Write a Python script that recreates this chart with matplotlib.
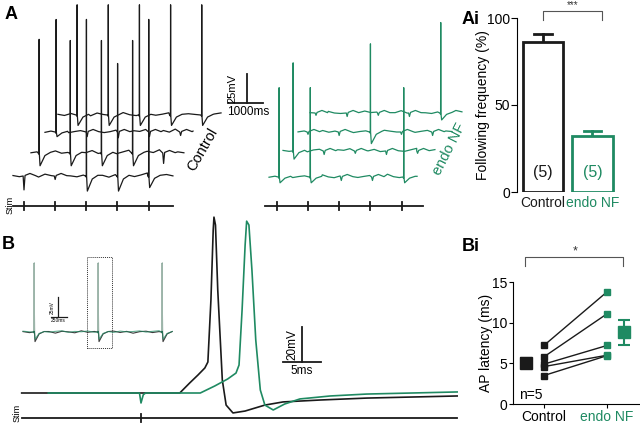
import numpy as np
import matplotlib
matplotlib.use("Agg")
import matplotlib.pyplot as plt
from matplotlib.patches import Rectangle

plt.rcParams['font.family'] = ['Liberation Sans', 'DejaVu Sans']

GREEN = '#1f8a62'
W, H = 640, 430

# ---------------- data ----------------
# A: stim train (ms, time inside a sweep)
stim_times = [0, 890, 1780, 2670, 3560]

# spike peak (mV above baseline) per sweep per stim, 0 = failure
ctrl_spikes = [[0, 0, 135, 97, 135],
               [98, 97, 97, 97, 0],
               [97, 0, 0, 0, 0],
               [95, 95, 95, 95, 95]]
nf_spikes = [[77, 77, 0, 0, 77],
             [76, 0, 0, 0, 0],
             [0, 0, 76, 0, 0],
             [0, 0, 0, 0, 78]]
# trough / artefact depth (mV below baseline)
ctrl_dips = [[12, 3, 13, 13, 10],
             [11, 11, 11, 11, 9],
             [4, 4, 5, 4, 3],
             [9, 9, 9, 9, 9]]
nf_dips = [[5, 5, 3, 3, 5],
           [7, 3, 2, 3, 2],
           [2, 3, 10, 2, 3],
           [2, 3, 2, 3, 6]]
# sweep start / end (ms, relative to first stim)
ctrl_t_start = [-315, -230, -315, -545]
ctrl_t_end = [4255, 4140, 3915, 4115]
nf_t_start = [-285, -285, -285, -170]
nf_t_end = [3945, 4055, 4115, 4170]
# baseline wiggle (mV) read along each sweep
ctrl_noise = [
    [0.4, -0.6, 1.1, 0.2, -0.9, 1.6, 0.3, -0.4, 1.9, 0.1, -0.7, 0.8, 2.3, -0.3, 0.6, -1.0, 1.2, 0.4, 2.0, -0.5, 0.9, 2.6, 0.2, -0.6, 1.3, 0.1],
    [0.2, 1.0, -0.5, 0.7, 1.8, -0.2, 0.5, -0.8, 1.4, 0.3, 2.1, -0.4, 0.6, 1.1, -0.6, 0.9, 2.4, 0.0, -0.7, 1.5, 0.4, 2.8, 0.6, -0.3, 1.0, 0.2],
    [-0.3, 0.8, 0.1, 1.5, -0.6, 0.4, 1.2, -0.2, 0.7, 2.0, -0.5, 0.3, 1.6, 0.2, -0.8, 1.1, 0.5, 2.2, -0.4, 0.6, 1.3, -0.1, 2.5, 0.3, -0.5, 0.8],
    [0.6, -0.4, 1.3, 0.1, 0.9, -0.7, 1.7, 0.4, -0.3, 1.0, 2.1, 0.2, -0.5, 0.8, 1.4, -0.2, 0.7, 1.9, 0.3, -0.6, 1.1, 0.5, 2.3, -0.1, 0.9, 1.8],
]
nf_noise = [
    [-0.2, 0.7, 0.3, 1.6, -0.5, 0.4, 1.0, -0.3, 0.8, 1.9, 0.1, -0.6, 0.9, 0.3, 2.2, -0.4, 0.5, 1.3, -0.2, 0.6, 2.4, 0.3, -0.5, 1.1, 0.2, 0.6],
    [0.5, -0.3, 1.2, 0.4, -0.7, 0.9, 1.5, 0.0, -0.4, 1.1, 0.6, 2.0, -0.2, 0.7, 0.1, 1.4, -0.5, 0.8, 1.7, 0.2, -0.3, 1.0, 2.3, 0.4, 0.8, 1.2],
    [0.1, 0.9, -0.4, 0.6, 1.3, -0.2, 0.8, 0.3, 1.8, -0.5, 0.4, 1.0, 0.2, -0.6, 1.5, 0.7, 0.0, 1.2, 2.1, -0.3, 0.6, 1.4, 0.2, 2.6, 0.9, 0.4],
    [0.3, -0.5, 0.9, 1.4, 0.0, -0.4, 1.1, 0.5, -0.2, 1.7, 0.4, 0.8, -0.6, 1.0, 0.3, 2.0, -0.1, 0.7, 1.3, 0.2, -0.4, 0.9, 1.6, 0.5, 2.2, 1.0],
]

# Ai: following frequency (%)
ai_groups = ['Control', 'endo NF']
ai_mean = [86, 32]
ai_sem = [5, 3]
ai_n = ['(5)', '(5)']

# B inset: 1 s of sweep, black and green overlaid
inset_spike_t = [0, 1000, 2000]
inset_amp = 86
inset_dip = 12
inset_t = (-172, 2156)
inset_noise_ctrl = [0.5, -0.8, 1.2, -0.3, 0.6, -1.4, 0.9, 0.2, -1.0, 1.5, -0.4, 0.7, -1.2, 0.3, 1.1, -0.6, 0.8, -1.5, 0.4, 1.0, -0.7, 0.5, -2.0, -1.2]
inset_noise_nf = [1.0, 0.2, 0.6, 1.3, -0.2, 0.8, 1.5, -0.4, 0.7, 0.3, 1.2, -0.3, 0.9, 0.4, -0.5, 1.1, 0.2, 0.6, 1.4, -0.1, 0.8, 1.6, 1.0, 2.0]

# B main: single AP, ms from stim, mV from rest
b_ctrl_t = [-15.7, 5.1, 6.4, 7.5, 8.4, 8.8, 9.2, 9.5, 9.6, 9.8, 10.1, 10.7, 11.2, 12.1, 13.7, 16.3, 18.7, 23.6, 29.7, 41.6]
b_ctrl_v = [0, 0, 5.7, 10.3, 14.3, 17.7, 53, 93, 100.5, 96, 58.8, 7.4, -6.9, -11.4, -10.3, -6.9, -5.1, -4.0, -2.9, -1.7]
b_nf_t = [-12.2, -0.2, 0.0, 0.3, 0.6, 7.8, 9.7, 11.4, 12.5, 12.9, 13.3, 13.7, 13.9, 14.2, 14.6, 15.1, 15.7, 16.3, 17.4, 18.9, 20.9, 24.9, 29.7, 41.6]
b_nf_v = [0, 0, -5.7, -1.0, 0, 0, 4, 8, 11.4, 16, 47.4, 84.5, 98.2, 96, 70, 30.3, 1.7, -6.9, -9.7, -6.3, -3.4, -1.7, -0.6, 0.6]

# Bi: AP latency (ms), paired cells
bi_ctrl = [7.2, 5.8, 4.9, 4.6, 3.5]
bi_nf = [13.8, 11.1, 7.2, 6.0, 5.95]
bi_mean = [5.1, 8.8]
bi_sem = [0.6, 1.55]


# ---------------- helpers ----------------
def px_axes(fig, x0, y0, x1, y1):
    return fig.add_axes([x0 / W, 1 - y1 / H, (x1 - x0) / W, (y1 - y0) / H])


def sweep_xy(t0, t1, noise, spikes, dips, stims, shape):
    tn = np.linspace(t0, t1, len(noise))
    vn = np.array(noise, float)
    keep = np.ones(len(tn), bool)
    ts, vs = [], []
    pre, up, down, rec1, rec2 = shape
    for t, amp, dip in zip(stims, spikes, dips):
        if t < t0 or t > t1:
            continue
        keep &= (tn < t - pre) | (tn > t + rec2)
        if amp > 0:
            ts += [t - pre, t, t + up, t + 2 * up, t + down, t + rec1, t + rec2]
            vs += [0, -1.0, amp, 0, -dip, -dip * 0.2, 0.6]
        else:
            ts += [t - pre, t, t + down, t + rec1, t + rec2]
            vs += [0, -dip, 0.5, 2.2, 0.3]
    ts = np.concatenate([tn[keep], ts])
    vs = np.concatenate([vn[keep], vs])
    o = np.argsort(ts)
    return ts[o], vs[o]


fig = plt.figure(figsize=(6.4, 4.3), dpi=100)

# ---------------- panel A (traces) ----------------
MS_A = 1000 / 35.0   # ms per px
MV_A = 25 / 29.0     # mV per px
axA = px_axes(fig, 0, 0, 470, 215)
axA.set_xlim((0 - 24) * MS_A, (470 - 24) * MS_A)
axA.set_ylim(-(215 - 176) * MV_A, 176 * MV_A)
axA.axis('off')

shapeA = (25, 4, 30, 170, 330)
ctrl_dx = [0, 15, 32, 53]     # waterfall offset, px
ctrl_dy = [0, 23, 44, 61]
nf_dx = [255, 269, 284, 292]
nf_dy = [-1, 25, 44, 63]
for s in range(4):
    t, v = sweep_xy(ctrl_t_start[s], ctrl_t_end[s], ctrl_noise[s], ctrl_spikes[s], ctrl_dips[s], stim_times, shapeA)
    axA.plot(t + ctrl_dx[s] * MS_A, v + ctrl_dy[s] * MV_A, color='#1a1a1a', lw=0.9, zorder=5 - s)
    t, v = sweep_xy(nf_t_start[s], nf_t_end[s], nf_noise[s], nf_spikes[s], nf_dips[s], stim_times, shapeA)
    axA.plot(t + nf_dx[s] * MS_A, v + nf_dy[s] * MV_A, color=GREEN, lw=0.9, zorder=5 - s)

# stim lines
for x0, a, b in [(0, -315, 4255), ((277 - 24) * MS_A, -343, 4170)]:
    ys = (176 - 206) * MV_A
    axA.plot([x0 + a, x0 + b], [ys, ys], color='#1a1a1a', lw=1.3)
    for st in stim_times:
        axA.plot([x0 + st, x0 + st], [ys - 3.5, ys + 3.5], color='#1a1a1a', lw=1.3)
axA.text(-400, -25, 'Stim', rotation=90, fontsize=6.5, ha='center', va='center')

# scale bar
sx, sy = (247 - 24) * MS_A, (176 - 103) * MV_A
axA.plot([sx, sx], [sy, sy + 25], color='#1a1a1a', lw=1.3)
axA.plot([sx - 1000 * (19 / 35), sx + 1000 * (16 / 35)], [sy, sy], color='#1a1a1a', lw=1.3)
axA.text(sx - 430, sy + 12.5, '25mV', rotation=90, fontsize=8, ha='center', va='center')
axA.text(sx + 20, sy - 3, '1000ms', fontsize=8.5, ha='center', va='top')

axA.text((203 - 24) * MS_A, (176 - 150) * MV_A, 'Control', rotation=60, fontsize=10.5,
         ha='center', va='center')
axA.text((449 - 24) * MS_A, (176 - 149) * MV_A, 'endo NF', rotation=63, fontsize=10.5,
         ha='center', va='center', color=GREEN)

# ---------------- panel Ai ----------------
axAi = px_axes(fig, 517, 18, 630, 192)
x = np.arange(len(ai_groups))
cols = ['#1a1a1a', GREEN]
axAi.bar(x, ai_mean, width=0.81, facecolor='white', edgecolor=cols, linewidth=2.0, zorder=2)
for i in range(2):
    axAi.plot([x[i], x[i]], [ai_mean[i], ai_mean[i] + ai_sem[i]], color=cols[i], lw=2.0, zorder=1)
    axAi.plot([x[i] - 0.18, x[i] + 0.18], [ai_mean[i] + ai_sem[i]] * 2, color=cols[i], lw=2.0)
    axAi.text(x[i], 11, ai_n[i], ha='center', va='center', fontsize=11.5, color=cols[i])
axAi.set_xlim(-0.525, 1.758)
axAi.set_ylim(0, 100)
axAi.set_yticks([0, 50, 100])
axAi.set_xticks(x)
axAi.set_xticklabels(ai_groups, fontsize=10)
for lab, c in zip(axAi.get_xticklabels(), cols):
    lab.set_color(c)
axAi.tick_params(axis='x', length=0, pad=3)
axAi.tick_params(axis='y', labelsize=10, length=4, width=0.8, pad=1)
for sp in ['top', 'right', 'bottom']:
    axAi.spines[sp].set_visible(False)
axAi.spines['left'].set_linewidth(0.8)
axAi.set_ylabel('Following frequency (%)', fontsize=10)
axAi.yaxis.set_label_coords(-0.235, 0.5)
axAi.plot([0, 0, 1.19, 1.19], [99, 104, 104, 99], color='#555555', lw=0.8, clip_on=False)
axAi.text(0.59, 104.5, '***', ha='center', va='bottom', fontsize=7, color='#333333')

# ---------------- panel B inset ----------------
MS_I = 250 / 16.0
MV_I = 25 / 20.0
axI = px_axes(fig, 15, 250, 180, 352)
axI.set_xlim((15 - 34) * MS_I, (180 - 34) * MS_I)
axI.set_ylim((332 - 352) * MV_I, (332 - 250) * MV_I)
axI.axis('off')
shapeI = (10, 4, 16, 80, 160)
t, v = sweep_xy(inset_t[0], inset_t[1], inset_noise_ctrl, [inset_amp] * 3, [inset_dip] * 3, inset_spike_t, shapeI)
axI.plot(t, v, color='#1a1a1a', lw=0.8, alpha=0.85)
t, v = sweep_xy(inset_t[0], inset_t[1], inset_noise_nf, [inset_amp] * 3, [inset_dip - 3] * 3, inset_spike_t, shapeI)
axI.plot(t, v, color=GREEN, lw=0.8, alpha=0.7)
# spikes look pale where the two sweeps overlap
for st in inset_spike_t:
    axI.plot([st + 2, st + 2], [2, inset_amp - 1], color='#a9bdb3', lw=1.3)
axI.add_patch(Rectangle(((87 - 34) * MS_I, (332 - 348) * MV_I), 25 * MS_I, 91 * MV_I,
                        fill=False, ls=(0, (1, 1)), lw=0.7, ec='#333333'))
bx, by = (58 - 34) * MS_I, (332 - 317) * MV_I
axI.plot([bx, bx], [by, by + 25], color='#1a1a1a', lw=0.9)
axI.plot([bx - 110, bx + 140], [by, by], color='#1a1a1a', lw=0.9)
axI.text(bx - 90, by + 12, '25mV', rotation=90, fontsize=3.5, ha='center', va='center')
axI.text(bx + 10, by - 1, '250ms', fontsize=3.5, ha='center', va='top')

# ---------------- panel B main trace ----------------
MS_B = 5 / 38.0
MV_B = 20 / 35.0
axB = px_axes(fig, 0, 200, 470, 430)
axB.set_xlim((0 - 141) * MS_B, (470 - 141) * MS_B)
axB.set_ylim((393 - 430) * MV_B, (393 - 200) * MV_B)
axB.axis('off')
axB.plot(b_ctrl_t, b_ctrl_v, color='#1a1a1a', lw=1.2, zorder=3)
axB.plot(b_nf_t, b_nf_v, color=GREEN, lw=1.2, zorder=4)
ys = (393 - 418) * MV_B
axB.plot([-15.7, 41.6], [ys, ys], color='#1a1a1a', lw=1.3)
axB.plot([0, 0], [ys - 2.3, ys + 2.3], color='#1a1a1a', lw=1.3)
axB.text(-16.3, -11.4, 'Stim', rotation=90, fontsize=6.5, ha='center', va='center')
bx, by = (302 - 141) * MS_B, (393 - 362) * MV_B
axB.plot([bx, bx], [by, by + 20], color='#1a1a1a', lw=1.3)
axB.plot([bx - 19 * MS_B, bx + 19 * MS_B], [by, by], color='#1a1a1a', lw=1.3)
axB.text(bx - 1.2, by + 10, '20mV', rotation=90, fontsize=8.5, ha='center', va='center')
axB.text(bx, by - 1.5, '5ms', fontsize=8.5, ha='center', va='top')

# ---------------- panel Bi ----------------
axBi = px_axes(fig, 513, 282, 640, 404)
for c, n in zip(bi_ctrl, bi_nf):
    axBi.plot([0, 1], [c, n], color='#1a1a1a', lw=1.0, zorder=2)
axBi.plot([0] * 5, bi_ctrl, 's', color='#1a1a1a', ms=4, zorder=3)
axBi.plot([1] * 5, bi_nf, 's', color=GREEN, ms=4, zorder=3)
axBi.errorbar([-0.29], [bi_mean[0]], yerr=[bi_sem[0]], fmt='s', color='#1a1a1a', ms=8,
              capsize=4, elinewidth=1.5, capthick=1.5)
axBi.errorbar([1.27], [bi_mean[1]], yerr=[bi_sem[1]], fmt='s', color=GREEN, ms=8,
              capsize=4, elinewidth=1.5, capthick=1.5)
axBi.set_xlim(-0.49, 1.52)
axBi.set_ylim(0, 15)
axBi.set_yticks([0, 5, 10, 15])
axBi.set_xticks([0, 1])
axBi.set_xticklabels(['Control', 'endo NF'], fontsize=10)
axBi.get_xticklabels()[1].set_color(GREEN)
axBi.tick_params(axis='both', labelsize=10, length=3, width=0.8, pad=1)
for sp in ['top', 'right']:
    axBi.spines[sp].set_visible(False)
axBi.spines['left'].set_linewidth(0.8)
axBi.spines['bottom'].set_linewidth(0.8)
axBi.set_ylabel('AP latency (ms)', fontsize=10)
axBi.yaxis.set_label_coords(-0.155, 0.5)
axBi.text(-0.4, 0.3, 'n=5', fontsize=10, ha='left', va='bottom')
axBi.plot([-0.3, -0.3, 1.25, 1.25], [17.0, 18.1, 18.1, 17.0], color='#555555', lw=0.8, clip_on=False)
axBi.text(0.49, 18.0, '*', ha='center', va='bottom', fontsize=9, color='#333333')

# panel letters
for lab, px, py in [('A', 5, 6), ('Ai', 462, 11), ('B', 2, 236), ('Bi', 462, 238)]:
    fig.text(px / W, 1 - py / H, lab, fontsize=13, fontweight='bold', ha='left', va='top')

fig.savefig('out.png', dpi=100)
